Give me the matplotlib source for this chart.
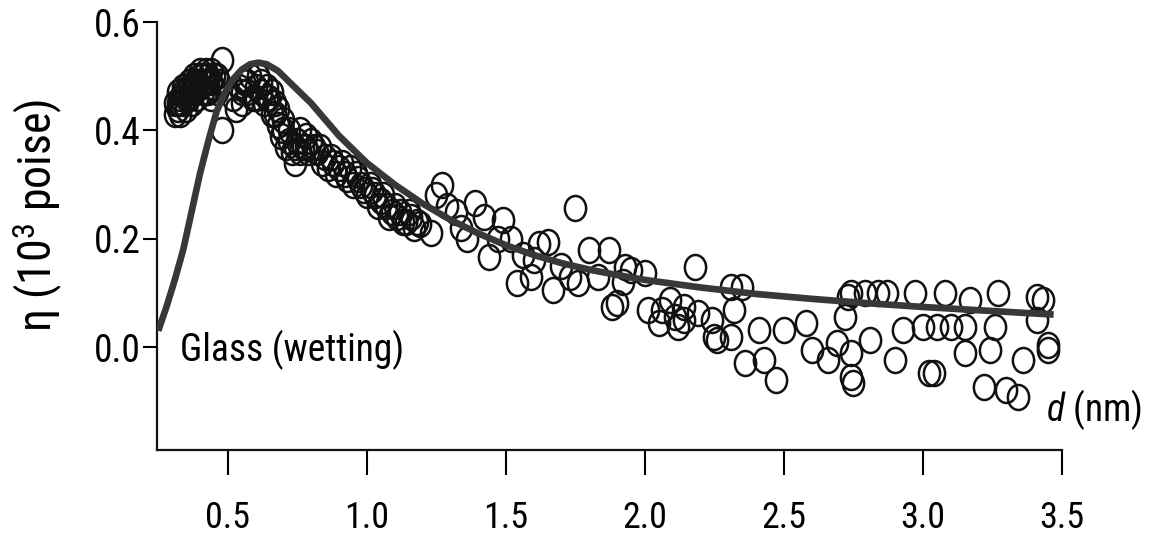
import numpy as np
import matplotlib
matplotlib.use("Agg")
import matplotlib.pyplot as plt
from matplotlib.path import Path

plt.rcParams['font.family'] = ['Roboto Condensed', 'Liberation Sans Narrow', 'Liberation Sans', 'DejaVu Sans']
plt.rcParams['mathtext.fontset'] = 'custom'
plt.rcParams['mathtext.rm'] = 'Roboto Condensed'
plt.rcParams['mathtext.it'] = 'Roboto Condensed:italic'

# measured viscosity (open circles)
d_meas = [
    # near-wall cluster
    0.31, 0.31, 0.32, 0.32, 0.33, 0.33, 0.34, 0.34, 0.35, 0.35, 0.36, 0.36, 0.37, 0.37,
    0.38, 0.38, 0.39, 0.39, 0.40, 0.40, 0.41, 0.41, 0.42, 0.42, 0.43, 0.43, 0.44, 0.44,
    0.45, 0.45, 0.46, 0.48, 0.48,
    0.32, 0.33, 0.34, 0.35, 0.36, 0.37, 0.38, 0.39, 0.40, 0.41, 0.42, 0.43, 0.44, 0.46, 0.47,
    # around the maximum
    0.52, 0.53, 0.54, 0.55, 0.56, 0.57, 0.58, 0.59, 0.60, 0.61, 0.62, 0.63, 0.64, 0.65,
    0.66, 0.67, 0.68, 0.68, 0.69, 0.70, 0.71, 0.72, 0.73, 0.74, 0.75, 0.76, 0.77, 0.78,
    0.79, 0.80, 0.82, 0.83, 0.85, 0.86, 0.88, 0.90, 0.92, 0.94, 0.95, 0.97, 0.99, 1.01,
    1.03, 1.05, 1.07, 1.09, 1.11, 1.13, 1.15, 1.17,
    0.55, 0.57, 0.60, 0.62, 0.64, 0.66, 0.67, 0.70, 0.72, 0.74, 0.76, 0.78, 0.81, 0.84,
    0.87, 0.89, 0.91, 0.93, 0.96, 0.98, 1.00, 1.02, 1.04, 1.06, 1.08, 1.10, 1.12, 1.14,
    1.16, 1.18,
    # decay
    1.19, 1.23, 1.25, 1.27, 1.29, 1.32, 1.34, 1.36, 1.39, 1.42, 1.44, 1.47, 1.49, 1.52,
    1.54, 1.56, 1.59, 1.60, 1.62, 1.65, 1.67, 1.70, 1.73, 1.75, 1.76, 1.80, 1.83, 1.87,
    1.88, 1.90, 1.92, 1.93, 1.95, 2.00, 2.01, 2.05, 2.06, 2.09, 2.11, 2.12, 2.14, 2.14,
    2.18, 2.19, 2.24, 2.25, 2.26, 2.31, 2.31, 2.32, 2.35, 2.36, 2.41, 2.43, 2.47, 2.50,
    2.58, 2.60, 2.66, 2.69, 2.72, 2.73, 2.74, 2.74, 2.74, 2.75, 2.79, 2.81, 2.84, 2.87,
    2.90, 2.93, 2.97, 3.00, 3.02, 3.04, 3.05, 3.08, 3.10, 3.15, 3.15, 3.17, 3.22, 3.24,
    3.26, 3.27, 3.30, 3.34, 3.36, 3.41, 3.41, 3.43, 3.45, 3.45,
]
eta_meas = [
    0.43, 0.45, 0.44, 0.47, 0.43, 0.46, 0.45, 0.48, 0.44, 0.47, 0.46, 0.49, 0.45, 0.48,
    0.47, 0.50, 0.46, 0.49, 0.48, 0.51, 0.47, 0.50, 0.49, 0.51, 0.47, 0.50, 0.49, 0.46,
    0.50, 0.48, 0.47, 0.53, 0.40,
    0.45, 0.45, 0.47, 0.46, 0.48, 0.47, 0.49, 0.48, 0.50, 0.49, 0.47, 0.49, 0.51, 0.50, 0.49,
    0.46, 0.44, 0.48, 0.45, 0.49, 0.47, 0.50, 0.46, 0.48, 0.50, 0.47, 0.45, 0.48, 0.46,
    0.43, 0.45, 0.41, 0.44, 0.39, 0.42, 0.37, 0.40, 0.36, 0.34, 0.38, 0.40, 0.37, 0.39,
    0.36, 0.38, 0.36, 0.37, 0.35, 0.33, 0.34, 0.33, 0.32, 0.33, 0.30, 0.31, 0.29, 0.30,
    0.28, 0.27, 0.26, 0.25, 0.24, 0.23, 0.25, 0.22,
    0.47, 0.49, 0.46, 0.49, 0.46, 0.47, 0.43, 0.40, 0.38, 0.37, 0.36, 0.37, 0.37, 0.34,
    0.35, 0.32, 0.34, 0.31, 0.32, 0.30, 0.28, 0.29, 0.26, 0.28, 0.24, 0.26, 0.25, 0.23,
    0.24, 0.23,
    0.228, 0.21, 0.28, 0.30, 0.26, 0.25, 0.22, 0.20, 0.265, 0.24, 0.166, 0.20, 0.235, 0.20,
    0.118, 0.17, 0.13, 0.16, 0.19, 0.194, 0.105, 0.15, 0.13, 0.256, 0.118, 0.179, 0.13, 0.179,
    0.074, 0.081, 0.12, 0.147, 0.142, 0.136, 0.068, 0.044, 0.068, 0.087, 0.055, 0.037, 0.074, 0.05,
    0.147, 0.063, 0.05, 0.018, 0.013, 0.11, 0.018, 0.068, 0.11, -0.03, 0.031, -0.024, -0.06, 0.031,
    0.044, -0.006, -0.024, 0.007, 0.055, 0.092, 0.10, -0.011, -0.055, -0.066, 0.10, 0.013, 0.10, 0.10,
    -0.024, 0.031, 0.10, 0.037, -0.048, -0.048, 0.037, 0.10, 0.037, 0.037, -0.011, 0.087, -0.074, -0.006,
    0.037, 0.10, -0.079, -0.092, -0.024, 0.092, 0.05, 0.087, 0.004, -0.006,
]

# fitted curve
d_fit = [0.25, 0.28, 0.31, 0.34, 0.37, 0.40, 0.43, 0.46, 0.49, 0.52, 0.55, 0.58, 0.61,
         0.64, 0.68, 0.72, 0.76, 0.80, 0.85, 0.90, 0.95, 1.00, 1.10, 1.20, 1.30, 1.40,
         1.50, 1.60, 1.70, 1.80, 1.90, 2.00, 2.20, 2.40, 2.60, 2.80, 3.00, 3.20, 3.40, 3.47]
eta_fit = [0.03, 0.075, 0.125, 0.18, 0.25, 0.32, 0.38, 0.435, 0.47, 0.495, 0.512, 0.522, 0.525,
           0.522, 0.51, 0.49, 0.47, 0.45, 0.42, 0.39, 0.365, 0.34, 0.30, 0.265, 0.235, 0.21,
           0.188, 0.17, 0.155, 0.143, 0.133, 0.124, 0.11, 0.098, 0.089, 0.081, 0.074, 0.068, 0.062, 0.06]

x_ticks = [0.5, 1.0, 1.5, 2.0, 2.5, 3.0, 3.5]
y_ticks = [0.0, 0.2, 0.4, 0.6]

W, H = 1151, 534
fig = plt.figure(figsize=(W / 100, H / 100), dpi=100)
ax = fig.add_axes([157 / W, 1 - 450 / H, (1062 - 157) / W, (450 - 22) / H])

# slightly tall open circles
circ = Path.unit_circle()
oval = Path(circ.vertices * [0.85, 1.0], circ.codes)

ax.plot(d_meas, eta_meas, linestyle='none', marker=oval, markersize=18,
        markerfacecolor='none', markeredgecolor='#111111', markeredgewidth=1.8, zorder=2)
ax.plot(d_fit, eta_fit, color='#383838', linewidth=4.8, solid_capstyle='butt', zorder=3)

ax.set_xlim(0.2455, 3.5)
ax.set_ylim(-0.19, 0.6)
ax.set_xticks(x_ticks)
ax.set_yticks(y_ticks)
ax.set_xticklabels([f"{v:.1f}" for v in x_ticks])
ax.set_yticklabels([f"{v:.1f}" for v in y_ticks])

for s in ['top', 'right']:
    ax.spines[s].set_visible(False)
for s in ['left', 'bottom']:
    ax.spines[s].set_linewidth(1.6)
    ax.spines[s].set_color('#111111')

ax.tick_params(axis='x', direction='out', length=18, width=1.5, pad=18, labelsize=26)
ax.tick_params(axis='y', direction='out', length=10, width=1.5, pad=2, labelsize=27)

fig.text(38 / W, 1 - 215 / H, r'η (10$^{3}$ poise)', rotation=90,
         ha='center', va='center', fontsize=33)
ax.text(0.33, -0.005, 'Glass (wetting)', fontsize=27, ha='left', va='center')
fig.text(1142 / W, 1 - 410 / H, r'$d$ (nm)', fontsize=27, ha='right', va='center')

fig.savefig('out.png', dpi=100)
